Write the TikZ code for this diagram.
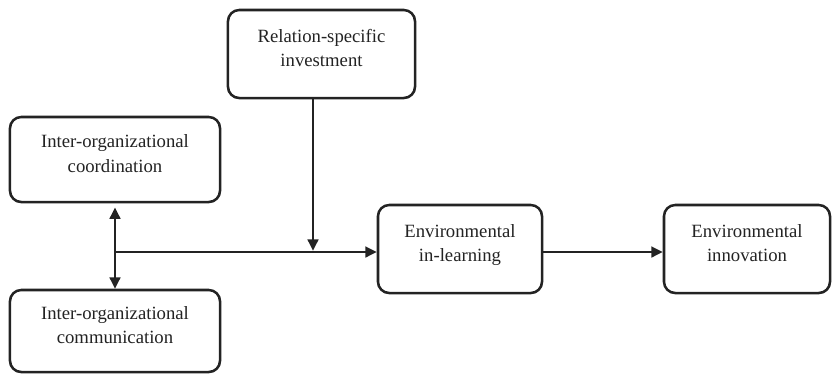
\documentclass[tikz,border=0pt]{standalone}
\usepackage{fontspec}
\setmainfont{Liberation Serif}
\usetikzlibrary{arrows.meta,positioning}
\definecolor{ink}{RGB}{35,35,35}
\newcommand{\padbelow}{\\[-9pt]\mbox{}}

\begin{document}
\begin{tikzpicture}[
        x=0.025cm, y=-0.025cm,
        box/.style={rectangle, draw=ink, line width=1.8pt, rounded corners=8pt, align=center,
            font=\fontsize{13.3}{17.5}\selectfont, text=ink, fill=white},
        link/.style={draw=ink, line width=1.8pt, -{Triangle[length=8pt,width=7.5pt]}},
    ]
        \useasboundingbox (0,0) rectangle (833,378);

        % Antecedents (left)
        \node[box, minimum width=5.25cm, minimum height=2.125cm] (COORD) at (115,159.5) {Inter-organizational\\coordination\padbelow};
        \node[box, minimum width=5.25cm, minimum height=2.05cm] (COMM) at (115,331) {Inter-organizational\\communication\padbelow};

        % Moderator (top)
        \node[box, minimum width=4.675cm, minimum height=2.2cm] (RSI) at (321.5,54) {Relation-specific\\investment\padbelow};

        % Mediator and outcome
        \node[box, minimum width=4.1cm, minimum height=2.2cm] (LEARN) at (460,249) {Environmental\\in-learning\padbelow};
        \node[box, minimum width=4.15cm, minimum height=2.2cm] (INNOV) at (747,249) {Environmental\\innovation\padbelow};

        \coordinate (JOIN) at (COORD.south |- 0,252);
        \coordinate (MOD) at (313,252);

        % Connectors
        \draw[link, {Triangle[length=8pt,width=7.5pt]}-{Triangle[length=8pt,width=7.5pt]}] ([yshift=-3pt]COORD.south) -- (COMM.north);
        \draw[link] (JOIN) -- (JOIN -| LEARN.west);
        \draw[link] (RSI.south -| MOD) -- ([yshift=0.9pt]MOD);
        \draw[link] (LEARN.east |- MOD) -- (INNOV.west |- MOD);
    \end{tikzpicture}
\end{document}
